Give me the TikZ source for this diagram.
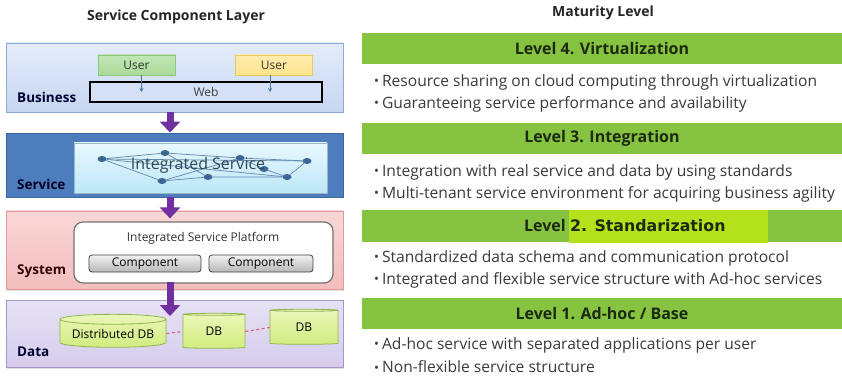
\documentclass[tikz,border=0pt]{standalone}
\usepackage{fontspec}
\setmainfont{Open Sans}
\newfontfamily\stdfont{DejaVu Sans}
\usetikzlibrary{arrows.meta,shapes.geometric,shadows,calc}

\definecolor{bizTop}{HTML}{E4ECFA}
\definecolor{bizBot}{HTML}{C6D6F0}
\definecolor{bizLine}{HTML}{8EA9D8}
\definecolor{userG}{HTML}{A8DB98}
\definecolor{userGl}{HTML}{8CC77A}
\definecolor{userY}{HTML}{FFE38C}
\definecolor{userYl}{HTML}{E8C860}
\definecolor{webFill}{HTML}{D3E0F6}
\definecolor{svcFill}{HTML}{4E7DBD}
\definecolor{svcLine}{HTML}{3B679F}
\definecolor{svcInTop}{HTML}{E8F8FE}
\definecolor{svcInBot}{HTML}{BDE7F7}
\definecolor{netBlue}{HTML}{3A6794}
\definecolor{netText}{HTML}{2C4756}
\definecolor{sysTop}{HTML}{FAD6D6}
\definecolor{sysBot}{HTML}{F2BDBD}
\definecolor{sysLine}{HTML}{E39A9A}
\definecolor{dataTop}{HTML}{E6E1F4}
\definecolor{dataBot}{HTML}{D5CDEC}
\definecolor{dataLine}{HTML}{A597CC}
\definecolor{dbTop}{HTML}{EAF7B8}
\definecolor{dbBot}{HTML}{D2EC80}
\definecolor{dbLine}{HTML}{93B550}
\definecolor{linkRed}{HTML}{D4607A}
\definecolor{arrPurple}{HTML}{7030A0}
\definecolor{barG}{HTML}{86C340}
\definecolor{barHi}{HTML}{B3E21C}
\definecolor{barText}{HTML}{1B2A10}
\definecolor{bulText}{HTML}{3A3A3A}

\newcommand\bulmark{{\fontsize{13}{13}\selectfont\raisebox{0.1ex}{•}}\hspace{3pt}}

\begin{document}
\begin{tikzpicture}[x=1pt,y=-1pt,
  layer/.style={rectangle, draw, line width=0.9pt, minimum width=337pt, inner sep=0pt,
    drop shadow={shadow xshift=1.2pt, shadow yshift=-1.5pt, opacity=0.25}},
  lbl/.style={anchor=west, inner sep=0pt, font=\bfseries\fontsize{13.5}{15}\selectfont},
  userbox/.style={rectangle, draw, line width=0.6pt, minimum width=77pt, minimum height=20pt,
    inner sep=0pt, font=\fontsize{12}{14}\selectfont, text=black!80},
  smallarr/.style={draw=netBlue!90, line width=0.8pt, -{Stealth[length=4pt,width=4pt]}},
  bigarrow/.style={draw=arrPurple, line width=7pt, -{Triangle[width=20pt,length=11pt]}},
  netdot/.style={ellipse, fill=netBlue, minimum width=9pt, minimum height=6pt, inner sep=0pt},
  netline/.style={draw=netBlue!80, line width=0.7pt},
  compbox/.style={rectangle, rounded corners=3pt, draw=black!75, line width=0.8pt,
    top color=white!95!black, bottom color=black!28, minimum height=17pt, inner sep=0pt,
    font=\fontsize{12}{14}\selectfont},
  dbcyl/.style={cylinder, shape border rotate=90, aspect=0.12, draw=dbLine, line width=0.8pt,
    top color=dbTop, bottom color=dbBot, inner sep=0pt, font=\fontsize{12}{14}\selectfont},
  dblink/.style={draw=linkRed, line width=1.1pt, dash pattern=on 3pt off 2.5pt},
  bar/.style={rectangle, fill=barG, minimum width=480pt, minimum height=31pt, inner sep=0pt,
    font=\bfseries\fontsize{16}{18}\selectfont, text=barText},
  bul/.style={anchor=west, inner sep=0pt, font=\fontsize{15.6}{18}\selectfont, text=bulText},
  head/.style={inner sep=0pt, font=\bfseries\fontsize{14}{16}\selectfont, text=black!85}
]
\useasboundingbox (0,0) rectangle (842,379);
\fill[white] (0,0) rectangle (842,379);

% ---------- column headings ----------
\node[head] (hleft) at (176,17) {Service Component  Layer};
\node[head] (hright) at (603,13) {Maturity Level};

% ---------- Business layer ----------
\node[layer, draw=bizLine, top color=bizTop, bottom color=bizBot, minimum height=69pt] (biz) at (174.5,77.5) {};
\node[lbl, text=black!80!blue] (bizl) at (17,97) {Business};
\node[userbox, draw=userGl, top color=userG!70!white, bottom color=userG] (u1) at (136.5,65) {User};
\node[userbox, draw=userYl, top color=userY!70!white, bottom color=userY] (u2) at (274,65) {User};
\node[rectangle, draw=black, line width=2.6pt, fill=webFill, minimum width=232pt, minimum height=20pt,
  inner sep=0pt, font=\fontsize{12}{14}\selectfont, text=black!75] (web) at (206,92) {Web};
\draw[smallarr] ([xshift=5pt]u1.south) -- ([xshift=5pt]u1.south |- web.center);
\draw[smallarr] ([xshift=-4pt]u2.south) -- ([xshift=-4pt]u2.south |- web.center);

% ---------- Service layer ----------
\node[layer, draw=svcLine, fill=svcFill, minimum height=64pt] (svc) at (174.5,165) {};
\node[lbl, text=black!85!blue] (svcl) at (17,184) {Service};
\node[rectangle, draw=svcInBot!80!black, line width=0.6pt, top color=svcInTop, bottom color=svcInBot,
  minimum width=253pt, minimum height=50pt, inner sep=0pt] (svcin) at (200.5,168) {};
\node[netdot] (n1) at (102,159) {};
\node[netdot] (n2) at (165,153) {};
\node[netdot] (n3) at (240,158) {};
\node[netdot] (n4) at (307,161) {};
\node[netdot] (n5) at (287,177) {};
\node[netdot] (n6) at (208,177) {};
\node[netdot] (n7) at (162,181) {};
\node[netdot] (n8) at (264,169) {};
\draw[netline] (n1) -- (n2) -- (n3) -- (n4) -- (n5) -- (n6) -- (n7) -- (n1);
\draw[netline] (n1) -- (n4);
\draw[netline] (n1) -- (n5);
\draw[netline] (n2) -- (n6);
\draw[netline] (n3) -- (n8) -- (n5);
\draw[netline] (n7) -- (n3);
\node[inner sep=0pt, font=\fontsize{16}{18}\selectfont, text=netText] (isvc) at (198,165) {Integrated Service};

% ---------- System layer ----------
\node[layer, draw=sysLine, top color=sysTop, bottom color=sysBot, minimum height=78pt] (sys) at (174.5,250) {};
\node[lbl, text=black!80!red] (sysl) at (17,271) {System};
\node[rectangle, rounded corners=9pt, draw=black!55, line width=1.2pt, fill=white,
  minimum width=259pt, minimum height=61pt, inner sep=0pt] (sysin) at (203.5,252.5) {};
\node[inner sep=0pt, font=\fontsize{12}{14}\selectfont, text=black!80] (isp) at (203,238) {Integrated Service Platform};
\node[compbox, minimum width=112pt] (c1) at (145,263.5) {Component};
\node[compbox, minimum width=104pt] (c2) at (261,263.5) {Component};

% ---------- Data layer ----------
\node[layer, draw=dataLine, top color=dataTop, bottom color=dataBot, minimum height=67pt] (data) at (174.5,333.5) {};
\node[lbl, text=black!80!blue] (datal) at (17,352) {Data};
\node[dbcyl, minimum width=106pt, minimum height=33pt] (db1) at (113,333.5) {Distributed DB};
\node[dbcyl, minimum width=62pt, minimum height=35pt] (db2) at (214,331.5) {DB};
\node[dbcyl, minimum width=68pt, minimum height=35pt] (db3) at (304,327.5) {DB};
\draw[dblink] (db1.east) -- (db2.west);
\draw[dblink] (db2.east) -- (db3.west);

% ---------- flow between layers ----------
\coordinate (ax) at (170,0);
\coordinate (datatip) at (170,316);
\draw[bigarrow] (biz.south -| ax) -- (svc.north -| ax);
\draw[bigarrow] (svc.south -| ax) -- ([yshift=3pt]sysin.north -| ax);
\draw[bigarrow] ([yshift=2pt]sysin.south -| ax) -- (datatip);

% ---------- maturity levels ----------
\node[bar] (l4) at (602,48.5) {Level 4. Virtualization};
\node[bul] (b41) at (374,82) {\bulmark Resource sharing on cloud computing through virtualization};
\node[bul] (b42) at (374,104) {\bulmark Guaranteeing service performance and availability};

\node[bar] (l3) at (602,138.5) {Level 3. Integration};
\node[bul] (b31) at (374,172) {\bulmark Integration with real service and data by using standards};
\node[bul] (b32) at (374,194) {\bulmark Multi-tenant service environment for acquiring  business agility};

\node[bar] (l2) at (602,226) {};
\node[rectangle, fill=barHi, minimum width=199pt, minimum height=32pt, inner sep=0pt] (l2hi) at (668.5,226.5) {};
\node[anchor=east, inner sep=0pt, font=\bfseries\fontsize{16}{18}\selectfont, text=barText] (l2a) at (566,226) {Level};
\node[anchor=west, inner sep=0pt, font=\stdfont\bfseries\fontsize{15.8}{18}\selectfont, text=barText] (l2b) at (570,226) {2. Standarization};
\node[bul] (b21) at (374,258) {\bulmark Standardized data schema and communication  protocol};
\node[bul] (b22) at (374,280) {\bulmark Integrated and flexible service structure with Ad-hoc services};

\node[bar] (l1) at (602,313.5) {Level 1. Ad-hoc / Base};
\node[bul] (b11) at (374,345) {\bulmark Ad-hoc service with separated applications per user};
\node[bul] (b12) at (374,367) {\bulmark Non-flexible service structure};
\end{tikzpicture}
\end{document}
